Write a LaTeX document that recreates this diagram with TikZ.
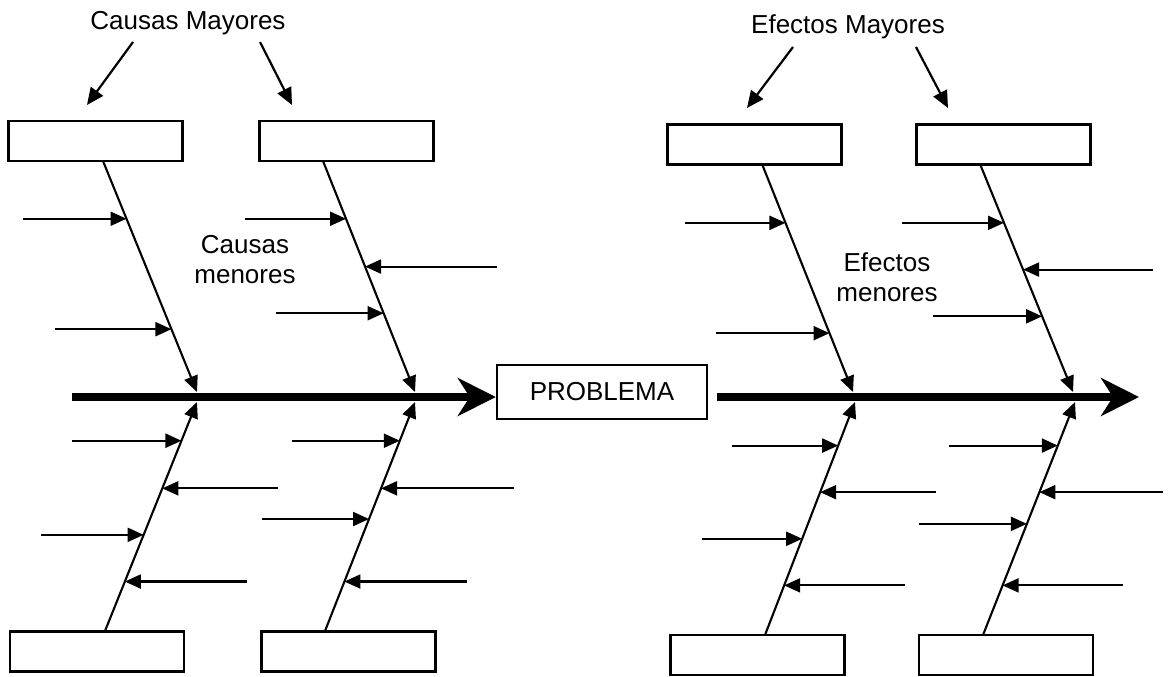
\documentclass[tikz,border=0pt]{standalone}
\usepackage{fontspec}
\setmainfont{Liberation Sans}
\usetikzlibrary{arrows.meta,calc}

\tikzset{
  catbox/.style={draw, line width=1.4pt, minimum width=87pt, minimum height=20pt, inner sep=0pt},
  probbox/.style={draw, line width=1.2pt, minimum width=105pt, minimum height=27pt, inner sep=0pt},
  spine/.style={line width=4.4pt, -{Stealth[length=19pt 0 0, width=19pt 0 0, inset=6pt 0 0]}},
  bone/.style={line width=1.05pt, -{Triangle[length=8pt 0 0, width=7pt 0 0]}},
  minor/.style={line width=1.05pt, -{Triangle[length=8pt 0 0, width=7pt 0 0]}},
  pointer/.style={line width=1.1pt, -{Triangle[length=8.5pt 0 0, width=7.5pt 0 0]}},
  lbl/.style={font=\fontsize{13}{15}\selectfont, inner sep=0pt, align=center}
}

\begin{document}
\begin{tikzpicture}[x=0.5pt, y=-0.5pt]
  \useasboundingbox (0,0) rectangle (1172,676);

  % headings and side labels
  \node[lbl] (causasM) at (188,23) {Causas Mayores};
  \node[lbl] (efectosM) at (848,27) {Efectos Mayores};
  \node[lbl] (causasm) at (245,260) {Causas\\[0pt]menores};
  \node[lbl] (efectosm) at (887,277) {Efectos\\[0pt]menores};

  % category boxes
  \node[catbox] (bA) at (95.5,141) {};
  \node[catbox] (bB) at (346.5,141) {};
  \node[catbox] (bC) at (754.5,144.5) {};
  \node[catbox] (bD) at (1003.5,144.5) {};
  \node[catbox] (bE) at (97,651.5) {};
  \node[catbox] (bF) at (348.5,651.5) {};
  \node[catbox] (bG) at (757.5,655) {};
  \node[catbox] (bH) at (1006,655) {};

  % central problem box
  \node[probbox, lbl] (prob) at (602,392) {PROBLEMA};

  % pointers from headings to the boxes
  \coordinate (pa1) at (133,42);  \coordinate (pa2) at (87,105);
  \coordinate (pb1) at (260,42);  \coordinate (pb2) at (292,105);
  \coordinate (pc1) at (793,47);  \coordinate (pc2) at (747,108);
  \coordinate (pd1) at (916,47);  \coordinate (pd2) at (948,108);
  \draw[pointer] (pa1) -- (pa2);
  \draw[pointer] (pb1) -- (pb2);
  \draw[pointer] (pc1) -- (pc2);
  \draw[pointer] (pd1) -- (pd2);

  % main spines
  \coordinate (sL) at (72,397);
  \coordinate (sR) at (717,397);
  \coordinate (sT) at (1139,397);
  \draw[spine] (sL) -- (prob.west |- sL);
  \draw[spine] (sR) -- (sT);

  % bone end points (box side and spine side)
  \coordinate (a0) at (103,161);  \coordinate (a1) at (197,392);
  \coordinate (b0) at (323,161);  \coordinate (b1) at (415,392);
  \coordinate (e0) at (105,631);  \coordinate (e1) at (197,402);
  \coordinate (f0) at (325,631);  \coordinate (f1) at (415,402);
  \coordinate (c0) at (762,164);  \coordinate (c1) at (853,392);
  \coordinate (d0) at (980,164);  \coordinate (d1) at (1073,392);
  \coordinate (g0) at (765,635);  \coordinate (g1) at (855,402);
  \coordinate (h0) at (983,635);  \coordinate (h1) at (1075,402);

  \foreach \k in {a,b,c,d,e,f,g,h}{
    \draw[bone] (\k0) -- (\k1);
  }

  % minor arrows: bone, position along bone, tail x
  \foreach \k/\f/\x [count=\i] in {
      a/.25/23, a/.728/55,
      b/.25/245, b/.457/497, b/.659/276,
      e/.831/72, e/.623/278, e/.42/41, e/.216/247,
      f/.831/292, f/.623/514, f/.489/262, f/.216/467,
      c/.258/685, c/.742/716,
      d/.258/902, d/.463/1153, d/.668/933,
      g/.813/732, g/.613/936, g/.413/702, g/.213/905,
      h/.813/949, h/.613/1163, h/.477/919, h/.213/1123}{
    \coordinate (m\i) at ($(\k0)!\f!(\k1)$);
    \coordinate (t\i) at (\x,0 |- m\i);
    \draw[minor] (t\i) -- (m\i);
  }
\end{tikzpicture}
\end{document}
